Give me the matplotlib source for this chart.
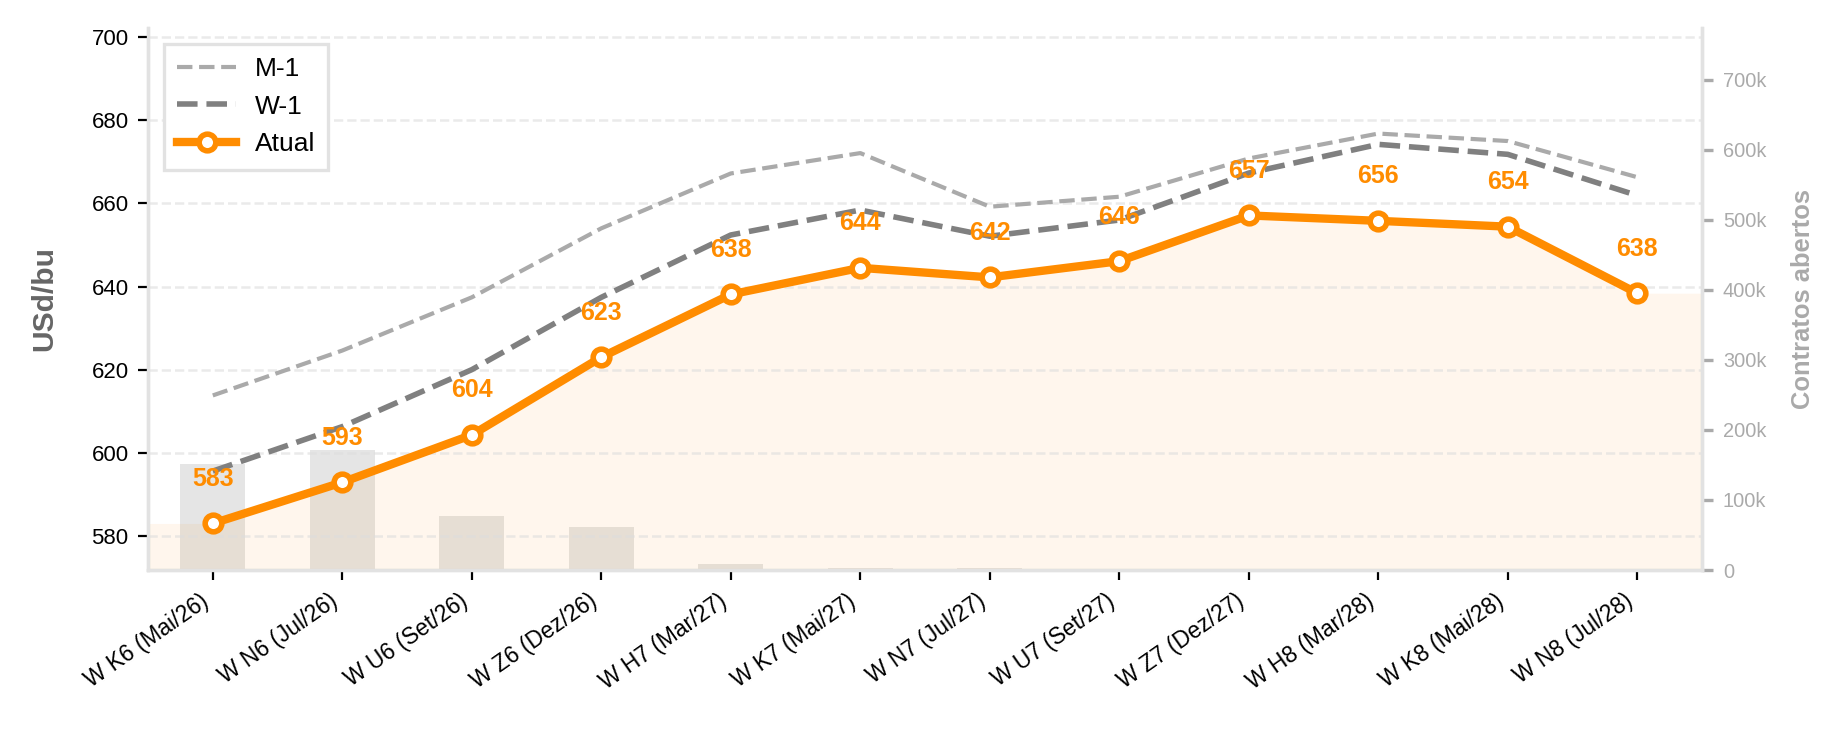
import numpy as np
import matplotlib
matplotlib.use("Agg")
import matplotlib.pyplot as plt
from matplotlib.ticker import FuncFormatter

plt.rcParams['font.family'] = ['Liberation Sans', 'DejaVu Sans']

contracts = ["W K6 (Mai/26)", "W N6 (Jul/26)", "W U6 (Set/26)", "W Z6 (Dez/26)",
             "W H7 (Mar/27)", "W K7 (Mai/27)", "W N7 (Jul/27)", "W U7 (Set/27)",
             "W Z7 (Dez/27)", "W H8 (Mar/28)", "W K8 (Mai/28)", "W N8 (Jul/28)"]
atual = [583.0, 592.9, 604.3, 623.0, 638.1, 644.5, 642.2, 646.1, 657.1, 655.8, 654.4, 638.4]
w_1 = [595.6, 606.3, 620.0, 637.4, 652.4, 658.4, 652.1, 656.0, 667.3, 674.2, 671.8, 661.9]
m_1 = [613.8, 624.6, 637.4, 654.0, 667.2, 672.1, 659.2, 661.6, 670.8, 676.8, 675.0, 666.3]
open_int = [152000, 172000, 77000, 61000, 8000, 2500, 2500, 600, 300, 200, 200, 150]

ORANGE = "#FF8C00"


def plot_curve():
    x = np.arange(len(contracts))
    fig = plt.figure(figsize=(9.23, 3.67), dpi=200)
    ax = fig.add_axes([0.0802, 0.2234, 0.8418, 0.7385])
    ax2 = ax.twinx()
    ax.set_zorder(ax2.get_zorder() + 1)
    ax.patch.set_visible(False)

    # open interest bars on the secondary axis
    ax2.bar(x, open_int, width=0.5, color="#808080", alpha=0.2, linewidth=0)
    ax2.set_ylim(0, max(open_int) * 4.5)
    ax2.yaxis.set_major_formatter(FuncFormatter(lambda v, p: "0" if v == 0 else f"{v/1000:.0f}k"))
    ax2.tick_params(axis="y", colors="#AAAAAA", labelsize=7.2, length=4, width=1.2)
    ax2.set_ylabel("Contratos abertos", color="#AAAAAA", fontsize=9.2, fontweight="bold", labelpad=9)

    # area under the current curve
    xf = np.r_[x[0] - 0.5, x, x[-1] + 0.5]
    yf = np.r_[atual[0], atual, atual[-1]]
    ax.fill_between(xf, yf, 560, color=ORANGE, alpha=0.07, linewidth=0, zorder=1)

    ax.plot(x, m_1, ls="--", color="#AAAAAA", lw=1.5, label="M-1", zorder=3)
    ax.plot(x, w_1, ls="--", color="#808080", lw=2, label="W-1", zorder=3)
    ax.plot(x, atual, color=ORANGE, lw=3, marker="o", markersize=6,
             markerfacecolor="white", markeredgecolor=ORANGE, markeredgewidth=2,
             label="Atual", zorder=4)

    for xi, v in zip(x, atual):
        ax.annotate(f"{v:.0f}", (xi, v), xytext=(0, 16), textcoords="offset points",
                    ha="center", va="center", color=ORANGE, fontsize=9,
                    fontweight="bold", zorder=5)

    ax.set_xlim(-0.5, len(contracts) - 0.5)
    ax.set_ylim(571.8, 702.2)
    ax.set_yticks(np.arange(580, 701, 20))
    ax.set_xticks(x)
    ax.set_xticklabels(contracts, rotation=35, ha="right", fontsize=8.2)
    ax.tick_params(axis="y", labelsize=8)
    ax.set_ylabel("USd/bu", fontsize=10.8, fontweight="bold", color="#666666", labelpad=12)
    ax.grid(axis="y", ls="--", color="#DDDDDD", alpha=0.6, lw=0.9)

    for a in (ax, ax2):
        a.spines["top"].set_visible(False)
        for s in ("left", "right", "bottom"):
            a.spines[s].set_color("#E2E2E2")
            a.spines[s].set_linewidth(1.2)

    leg = ax.legend(loc="upper left", fontsize=9.5, fancybox=False, framealpha=1,
                    edgecolor="#E2E2E2", handlelength=2.25, labelspacing=0.52,
                    borderpad=0.5, borderaxespad=0.6, handletextpad=0.7)
    leg.get_frame().set_linewidth(1.2)

    fig.savefig("out.png", dpi=200)


if __name__ == "__main__":
    plot_curve()
